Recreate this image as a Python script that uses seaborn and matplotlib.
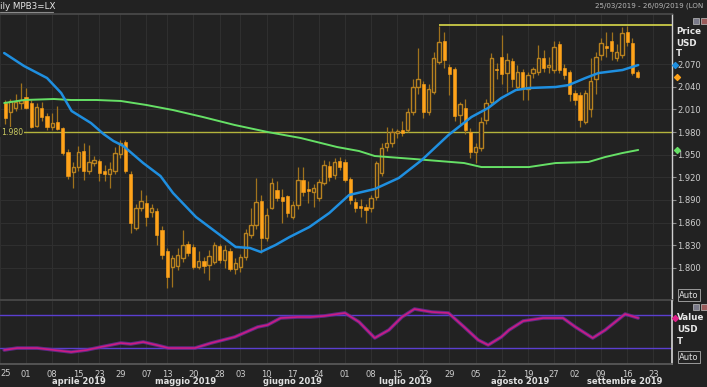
import numpy as np
import pandas as pd
import matplotlib
matplotlib.use("Agg")
import matplotlib.pyplot as plt
import matplotlib.transforms as mtransforms
import seaborn as sns

# ------------------------------------------------------------------ data
holidays = ["2019-04-19", "2019-04-22", "2019-05-06", "2019-05-27", "2019-08-26"]
first_candle = "2019-03-26"

opens = [2.018, 2.006, 2.012, 2.018, 2.026, 2.019, 1.988, 2.012, 2.001, 1.986,
         1.993, 1.985, 1.954, 1.927, 1.933, 1.955, 1.928, 1.939, 1.941, 1.928,
         1.925, 1.929, 1.951, 1.967, 1.925, 1.853, 1.880, 1.886, 1.874, 1.875,
         1.850, 1.822, 1.801, 1.802, 1.813, 1.832, 1.828, 1.801, 1.809, 1.804,
         1.808, 1.829, 1.810, 1.823, 1.799, 1.801, 1.814, 1.843, 1.857, 1.889,
         1.840, 1.880, 1.903, 1.894, 1.895, 1.868, 1.883, 1.916, 1.905, 1.901,
         1.892, 1.913, 1.935, 1.923, 1.942, 1.940, 1.918, 1.887, 1.882, 1.881,
         1.880, 1.894, 1.926, 1.960, 1.965, 1.979, 1.983, 1.983, 2.006, 2.039,
         2.044, 2.007, 2.033, 2.073, 2.100, 2.066, 2.063, 2.002, 2.012, 1.980,
         1.954, 1.959, 1.996, 2.020, 2.064, 2.080, 2.058, 2.074, 2.040, 2.060,
         2.037, 2.058, 2.060, 2.078, 2.066, 2.062, 2.097, 2.065, 2.060, 2.032,
         2.029, 1.993, 2.010, 2.050, 2.082, 2.094, 2.101, 2.078, 2.082, 2.112,
         2.098, 2.060]
highs = [2.022, 2.024, 2.030, 2.045, 2.038, 2.022, 2.018, 2.020, 2.005, 2.005,
         2.014, 1.987, 1.957, 1.940, 1.962, 1.965, 1.963, 1.948, 1.944, 1.936,
         1.940, 1.960, 1.970, 1.970, 1.928, 1.885, 1.903, 1.896, 1.885, 1.880,
         1.855, 1.826, 1.817, 1.826, 1.850, 1.835, 1.832, 1.822, 1.815, 1.824,
         1.834, 1.832, 1.830, 1.826, 1.813, 1.818, 1.852, 1.880, 1.919, 1.897,
         1.880, 1.919, 1.915, 1.905, 1.897, 1.888, 1.934, 1.934, 1.915, 1.911,
         1.918, 1.943, 1.942, 1.945, 1.947, 1.944, 1.920, 1.893, 1.891, 1.884,
         1.896, 1.942, 1.965, 1.987, 1.985, 1.984, 1.995, 2.012, 2.050, 2.091,
         2.048, 2.043, 2.086, 2.121, 2.112, 2.070, 2.066, 2.020, 2.024, 1.985,
         1.966, 2.000, 2.024, 2.084, 2.072, 2.108, 2.085, 2.078, 2.069, 2.064,
         2.060, 2.066, 2.095, 2.088, 2.080, 2.100, 2.100, 2.070, 2.062, 2.036,
         2.033, 2.036, 2.078, 2.086, 2.104, 2.113, 2.112, 2.097, 2.119, 2.121,
         2.105, 2.062]
lows = [1.990, 1.987, 2.008, 2.010, 2.010, 1.985, 1.986, 1.995, 1.982, 1.983,
        1.982, 1.950, 1.918, 1.906, 1.928, 1.917, 1.925, 1.935, 1.915, 1.915,
        1.906, 1.925, 1.945, 1.926, 1.846, 1.850, 1.875, 1.855, 1.868, 1.830,
        1.812, 1.773, 1.775, 1.797, 1.808, 1.816, 1.798, 1.798, 1.793, 1.784,
        1.805, 1.806, 1.800, 1.796, 1.792, 1.795, 1.810, 1.840, 1.852, 1.820,
        1.836, 1.878, 1.888, 1.860, 1.868, 1.865, 1.878, 1.895, 1.886, 1.881,
        1.888, 1.910, 1.915, 1.918, 1.930, 1.914, 1.885, 1.874, 1.868, 1.859,
        1.874, 1.890, 1.922, 1.955, 1.960, 1.972, 1.975, 1.980, 2.002, 2.030,
        1.999, 2.003, 2.030, 2.070, 2.065, 2.029, 1.995, 1.990, 1.978, 1.945,
        1.939, 1.955, 1.990, 2.016, 2.050, 2.044, 2.033, 2.040, 2.035, 2.022,
        2.022, 2.052, 2.056, 2.060, 2.058, 2.058, 2.058, 2.050, 2.021, 2.016,
        1.987, 1.990, 2.000, 2.030, 2.075, 2.080, 2.075, 2.074, 2.078, 2.094,
        2.055, 2.052]
closes = [1.999, 2.021, 2.020, 2.022, 2.012, 1.987, 2.013, 2.000, 1.986, 1.992,
          1.984, 1.952, 1.922, 1.933, 1.953, 1.928, 1.940, 1.943, 1.926, 1.924,
          1.931, 1.952, 1.966, 1.928, 1.859, 1.880, 1.888, 1.868, 1.880, 1.843,
          1.817, 1.788, 1.813, 1.817, 1.830, 1.820, 1.801, 1.809, 1.802, 1.816,
          1.830, 1.810, 1.824, 1.798, 1.806, 1.815, 1.846, 1.857, 1.887, 1.840,
          1.870, 1.912, 1.893, 1.889, 1.873, 1.883, 1.916, 1.900, 1.902, 1.906,
          1.914, 1.936, 1.920, 1.940, 1.934, 1.916, 1.890, 1.879, 1.880, 1.877,
          1.892, 1.939, 1.959, 1.966, 1.980, 1.981, 1.979, 2.007, 2.039, 2.050,
          2.007, 2.037, 2.078, 2.099, 2.075, 2.057, 2.001, 2.017, 1.983, 1.953,
          1.960, 1.993, 2.019, 2.078, 2.062, 2.057, 2.075, 2.050, 2.059, 2.037,
          2.055, 2.063, 2.078, 2.065, 2.069, 2.093, 2.062, 2.056, 2.030, 2.023,
          1.996, 2.032, 2.048, 2.080, 2.098, 2.091, 2.087, 2.086, 2.111, 2.099,
          2.058, 2.053]

# moving averages (trading-day number, value)
blue_day = [0.8, 4.6, 9.0, 11.7, 13.7, 17.4, 19.8, 21.7, 23.6, 27.4, 30.7, 33.1,
            37.5, 42.6, 45.1, 47.8, 49.9, 52.7, 55.4, 59.2, 63.0, 66.8, 71.7,
            76.3, 80.7, 85.8, 90.2, 93.4, 95.9, 98.7, 101.2, 106.3, 108.8,
            112.0, 114.5, 119.1, 122.1]
blue_val = [2.0846, 2.0674, 2.0515, 2.0317, 2.0078, 1.9919, 1.9774, 1.9681,
            1.9615, 1.9389, 1.9217, 1.8992, 1.8674, 1.8409, 1.8277, 1.8264,
            1.8211, 1.8303, 1.8409, 1.8542, 1.8727, 1.8966, 1.9045, 1.9191,
            1.9429, 1.9760, 1.9999, 2.0118, 2.0250, 2.0356, 2.0383, 2.0396,
            2.0422, 2.0515, 2.0581, 2.0621, 2.0687]
green_day = [0.8, 4.6, 10.3, 13.6, 18.5, 23.1, 28.0, 33.1, 38.8, 44.9, 51.2,
             57.5, 64.5, 68.7, 71.7, 79.3, 88.8, 92.1, 101.2, 106.3, 112.6,
             115.8, 119.1, 122.1]
green_val = [2.0184, 2.0224, 2.0237, 2.0224, 2.0224, 2.0211, 2.0158, 2.0091,
             1.9999, 1.9893, 1.9800, 1.9721, 1.9601, 1.9548, 1.9482, 1.9442,
             1.9389, 1.9336, 1.9336, 1.9389, 1.9403, 1.9469, 1.9522, 1.9562]

# lower oscillator panel
osc_day = [0.8, 3.3, 7.1, 10.3, 13.6, 16.6, 19.3, 23.1, 25.0, 27.4, 29.9, 32.2,
           37.3, 40.4, 44.9, 49.3, 51.2, 53.7, 56.9, 59.4, 62.0, 64.5, 66.0,
           68.7, 71.7, 74.4, 76.9, 79.3, 82.6, 85.8, 88.8, 91.5, 93.4, 95.9,
           97.4, 100.1, 103.9, 107.7, 110.1, 113.4, 115.8, 119.6, 122.1]
osc_val = [15.8, 19.4, 19.4, 15.8, 12.1, 15.8, 21.3, 28.6, 26.8, 30.5, 25.0,
           19.4, 19.4, 28.6, 39.6, 58.0, 61.7, 74.5, 76.3, 76.3, 78.2, 81.8,
           83.7, 67.2, 37.8, 52.5, 76.3, 91.0, 85.5, 83.7, 58.0, 34.1, 24.9,
           39.6, 52.5, 69.0, 74.5, 74.5, 58.0, 37.8, 52.5, 81.8, 74.5]
osc_levels = [20, 80]

price_ticks = [1.800, 1.830, 1.860, 1.890, 1.920, 1.950, 1.980, 2.010, 2.040, 2.070]
support_level = 1.980
resistance_level = 2.1215
resistance_start = "2019-07-25"
month_names = {4: "aprile 2019", 5: "maggio 2019", 6: "giugno 2019",
               7: "luglio 2019", 8: "agosto 2019", 9: "settembre 2019"}

# ------------------------------------------------------------------ style
BG = "#222222"
GRID = "#303030"
FILL = "#ffa31a"
HOLLOW = "#b8821f"
WICK = "#a0721d"

sns.set_theme(style="dark")
plt.rcParams["font.family"] = ["DejaVu Sans"]

days = pd.bdate_range("2019-03-25", "2019-09-26")
days = days[~days.isin(pd.to_datetime(holidays))]
day_pos = pd.Series(np.arange(len(days)), index=days)

x0 = day_pos[pd.Timestamp(first_candle)]
x = np.arange(x0, x0 + len(opens))
o = np.array(opens); h = np.array(highs); l = np.array(lows); c = np.array(closes)

fig = plt.figure(figsize=(7.07, 3.87), dpi=100, facecolor=BG)
W, H = 707.0, 387.0
ax = fig.add_axes([0, 1 - 300 / H, 672 / W, 286 / H], facecolor=BG)
ax2 = fig.add_axes([0, 1 - 364 / H, 672 / W, 63 / H], facecolor=BG, sharex=ax)

XLIM = (0.82, 128.57)

# weekly ticks & month separators
wk = pd.DataFrame({"d": days, "i": np.arange(len(days))})
weekly = wk.groupby(wk["d"].dt.to_period("W")).first()
week_pos = weekly["i"].values
week_lab = [f"{d.day:02d}" for d in weekly["d"]]
mon = wk.groupby(wk["d"].dt.to_period("M")).first()
mon_first = mon["i"].values
mon_month = [d.month for d in mon["d"]]

# ---------------- main panel
for a in (ax, ax2):
    a.set_xlim(*XLIM)
    a.set_xticks(week_pos)
    a.grid(True, axis="x", color=GRID, lw=0.7)
    for s in a.spines.values():
        s.set_visible(False)

ax.set_ylim(1.7575, 2.1363)
ax.set_yticks(price_ticks)
ax.grid(True, axis="y", color=GRID, lw=0.7)
ax.yaxis.tick_right()
ax.set_yticklabels([f"{v:.3f}" for v in price_ticks])
ax.tick_params(axis="y", colors="#8c8c8c", labelcolor="#cfcfcf", labelsize=6,
               length=3, width=0.8, pad=1, direction="out")
ax.tick_params(axis="x", length=0, labelbottom=False)
ax.spines["right"].set_visible(True)
ax.spines["right"].set_color("#d0d0d0")
ax.spines["right"].set_linewidth(1)
ax.spines["top"].set_visible(True)
ax.spines["top"].set_color("#4a4a4a")
ax.spines["bottom"].set_visible(True)
ax.spines["bottom"].set_color("#4a4a4a")

# support / resistance lines
ax.axhline(support_level, color="#b4b43c", lw=1.0, zorder=1)
rs = day_pos[pd.Timestamp(resistance_start)]
ax.hlines(resistance_level, rs, XLIM[1], color="#d9d94a", lw=1.2, zorder=1)
ax.text(0.001, support_level, f"{support_level:.3f}",
        transform=mtransforms.blended_transform_factory(ax.transAxes, ax.transData),
        color="#c8c860", fontsize=5.6, va="center", ha="left", clip_on=False,
        bbox=dict(facecolor=BG, edgecolor="none", pad=0.6), zorder=6)

# candles
up = c >= o
lo_b = np.minimum(o, c)
hb = np.maximum(np.abs(c - o), 0.0009)
ax.vlines(x, l, h, color=WICK, lw=0.9, zorder=2)
ax.bar(x[~up], hb[~up], bottom=lo_b[~up], width=0.64, color=FILL,
       edgecolor=FILL, lw=0.4, zorder=3)
ax.bar(x[up], hb[up], bottom=lo_b[up], width=0.64, color=BG,
       edgecolor=HOLLOW, lw=1.0, zorder=3)

# moving averages
ma = pd.DataFrame({"day": blue_day, "v": blue_val})
mg = pd.DataFrame({"day": green_day, "v": green_val})
sns.lineplot(data=mg, x="day", y="v", ax=ax, color="#66e066", lw=1.4, zorder=4)
sns.lineplot(data=ma, x="day", y="v", ax=ax, color="#1f8fe0", lw=1.8, zorder=5)
ax.set_xlabel(""); ax.set_ylabel("")

# right edge markers
bt = mtransforms.blended_transform_factory(ax.transAxes, ax.transData)
ax.scatter([1.004], [blue_val[-1]], marker="D", s=9, color="#1f8fe0", transform=bt, clip_on=False, zorder=7)
ax.scatter([1.008], [closes[-1]], marker="D", s=9, color=FILL, transform=bt, clip_on=False, zorder=7)
ax.scatter([1.008], [green_val[-1]], marker="D", s=9, color="#66e066", transform=bt, clip_on=False, zorder=7)

# ---------------- oscillator panel
ax2.set_ylim(-9.9, 105.7)
ax2.set_yticks([])
for lev in osc_levels:
    ax2.axhline(lev, color="#5b3fd0", lw=1.0, zorder=1)
osc = pd.DataFrame({"day": osc_day, "v": osc_val})
sns.lineplot(data=osc, x="day", y="v", ax=ax2, color="#6a2c9c", lw=2.6, alpha=0.8, zorder=2)
sns.lineplot(data=osc, x="day", y="v", ax=ax2, color="#cc1c84", lw=1.2, zorder=3)
ax2.set_xlabel(""); ax2.set_ylabel("")
ax2.spines["right"].set_visible(True)
ax2.spines["right"].set_color("#d0d0d0")
ax2.spines["bottom"].set_visible(True)
ax2.spines["bottom"].set_color("#5a5a5a")
# the first weekly label (25 March) sits at the clipped left edge; keep it visible
week_lab_shown = [""] + week_lab[1:]
ax2.set_xticklabels(week_lab_shown)
ax2.tick_params(axis="x", which="major", colors="#8a8a8a", labelcolor="#cdcdcd",
                labelsize=6, length=3, width=0.8, pad=1, direction="out")
ax2.set_xticks([p for p, m in zip(mon_first, mon_month) if m in month_names], minor=True)
ax2.tick_params(axis="x", which="minor", colors="#6a6a6a", length=17, width=0.9, direction="out")
bt2 = mtransforms.blended_transform_factory(ax2.transAxes, ax2.transData)
ax2.scatter([1.004], [osc_val[-1]], marker="D", s=9, color="#e0208a", transform=bt2, clip_on=False, zorder=7)
fig.text(0.5 / W, 1 - 373.5 / H, week_lab[0], color="#cdcdcd", fontsize=6, ha="left", va="center")

# month labels
tm = mtransforms.blended_transform_factory(ax2.transData, fig.transFigure)
bounds = list(mon_first) + [len(days)]
for k, m in enumerate(mon_month):
    if m in month_names:
        cx = (bounds[k] + bounds[k + 1]) / 2.0
        ax2.text(cx, 1 - 382 / H, month_names[m], transform=tm, ha="center", va="center",
                 fontsize=6, fontweight="bold", color="#e0e0e0", clip_on=False)

# ---------------- header & side labels
fig.text(0.0, 1 - 6.5 / H, "ily MPB3=LX", color="#e6e6e6", fontsize=6.3, ha="left", va="center")
fig.add_artist(plt.Line2D([0, 53 / W], [1 - 11.5 / H] * 2, color="#8a8a8a", lw=0.8))
fig.text(703 / W, 1 - 6 / H, "25/03/2019 - 26/09/2019 (LON", color="#b8b8b8", fontsize=5.1,
         ha="right", va="center")
for t, yy in (("Price", 32), ("USD", 43), ("T", 54)):
    fig.text(676 / W, 1 - yy / H, t, color="#e8e8e8", fontsize=6.3, fontweight="bold", ha="left", va="center")
for t, yy in (("Value", 318), ("USD", 330), ("T", 341)):
    fig.text(677 / W, 1 - yy / H, t, color="#e8e8e8", fontsize=6.3, fontweight="bold", ha="left", va="center")
for yy in (295, 357):
    fig.text(679 / W, 1 - yy / H, "Auto", color="#e0e0e0", fontsize=6, ha="left", va="center",
             bbox=dict(facecolor="none", edgecolor="#9a9a9a", lw=0.7, pad=0.8))
for xx, yy, col in ((693, 18, "#7a7a8a"), (701, 18, "#9a5a5a"), (693, 304, "#7a7a8a"), (701, 304, "#9a5a5a")):
    fig.add_artist(plt.Rectangle((xx / W, 1 - (yy + 6) / H), 6 / W, 6 / H, facecolor=col,
                                 edgecolor="#c0c0c0", lw=0.5, transform=fig.transFigure))

fig.savefig("out.png", dpi=100, facecolor=BG)
